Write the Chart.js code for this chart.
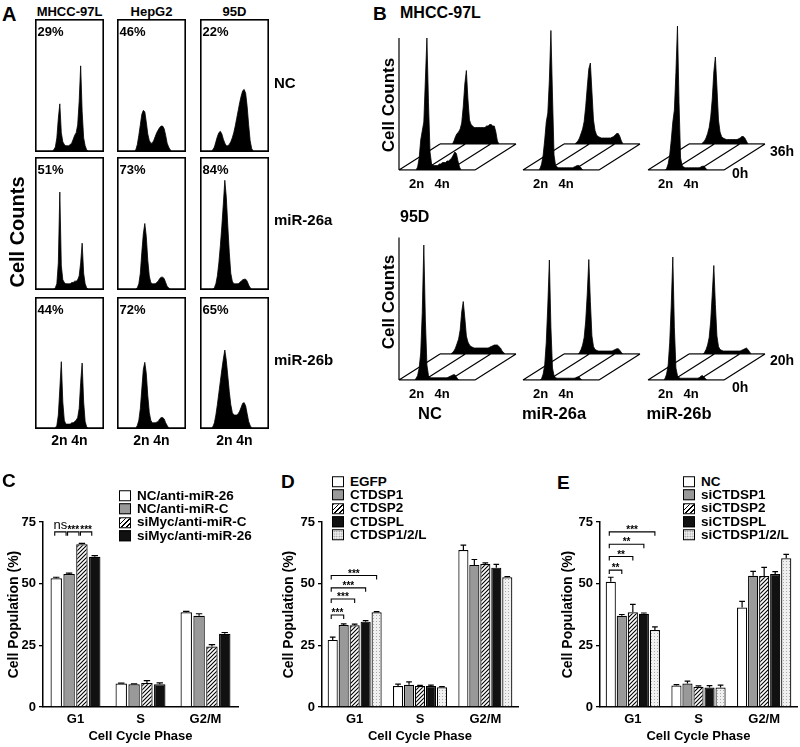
<!DOCTYPE html>
<html>
<head>
<meta charset="utf-8">
<title>Cell cycle figure</title>
<script src="https://cdn.jsdelivr.net/npm/chart.js@4.4.1/dist/chart.umd.min.js"></script>
<style>
  body { margin: 0; background: #fff; }
  #fig { position: relative; width: 800px; height: 747px; overflow: hidden; background: #fff;
         font-family: "Liberation Sans", Arial, Helvetica, sans-serif; font-weight: bold; color: #000; }
  #fig canvas { position: absolute; }
  .t { position: absolute; white-space: nowrap; line-height: 1; transform: translate(-50%, -50%); }
  .t.l { transform: translate(0, -50%); }
  .t.r90 { transform: translate(-50%, -50%) rotate(-90deg); }
  .leg { position: absolute; white-space: nowrap; font-size: 13.5px; line-height: 1; transform: translate(0, -50%); display: flex; align-items: center; }
  .sw { display: inline-block; box-sizing: border-box; width: 12px; height: 11px; border: 1px solid #000; margin-right: 6px; }
  .s0 { background: #fff; }
  .s1 { background: #999; }
  .s2 { background: repeating-linear-gradient(135deg, #000 0 1.2px, #fff 1.2px 3.4px); }
  .s3 { background: #111; }
  .s4 { background-color: #efefef; background-image: radial-gradient(#999 0.7px, transparent 0.9px); background-size: 2.5px 2.5px; }
</style>
</head>
<body>
<div id="fig"></div>
<script>
Chart.defaults.font.family = '"Liberation Sans", Arial, Helvetica, sans-serif';
Chart.defaults.font.weight = 'bold';
Chart.defaults.color = '#000';
Chart.defaults.animation = false;

// ---------- panel A: DNA histograms (46 channels, % of frame height) ----------
const cellLinesA = ['MHCC-97L', 'HepG2', '95D'];
const treatmentsA = ['NC', 'miR-26a', 'miR-26b'];
const g1PercentA = [['29%', '46%', '22%'], ['51%', '73%', '84%'], ['44%', '72%', '65%']];

const hist97L_NC = [0,0,0,0,0,0,0,0,0,0,0,0,1,3,10,25,36,14,7,5,4,4,4,5,6,9,12,14,20,38,65,30,10,4,1,0,0,0,0,0,0,0,0,0,0,0];
const histHep_NC = [0,0,0,0,0,0,0,0,0,0,0,0,1,5,12,20,28,31,30,22,13,8,6,6,8,11,14,16,18,19,19,17,12,6,3,1,0,0,0,0,0,0,0,0,0,0];
const hist95D_NC = [0,0,0,0,0,0,0,0,1,3,7,11,14,15,13,9,6,4,4,5,7,10,14,19,25,31,37,42,46,47,44,34,20,8,2,0,0,0,0,0,0,0,0,0,0,0];
const hist97L_a = [0,0,0,0,0,0,0,0,0,0,0,0,0,1,4,20,74,18,7,5,4,4,4,4,5,5,6,6,7,10,20,35,12,4,1,0,0,0,0,0,0,0,0,0,0,0];
const histHep_a = [0,0,0,0,0,0,0,0,0,0,0,0,0,1,4,12,28,42,50,40,22,10,5,4,4,4,5,6,8,9,9,8,5,2,1,0,0,0,0,0,0,0,0,0,0,0];
const hist95D_a = [0,0,0,0,0,0,0,0,0,1,4,10,20,33,48,65,83,70,48,28,12,6,4,4,4,4,5,6,7,7.5,7.5,6,3,1,0,0,0,0,0,0,0,0,0,0,0,0];
const hist97L_b = [0,0,0,0,0,0,0,0,0,0,0,0,0,0,2,10,30,51,20,6,3,3,3,3,4,4,5,6,8,15,35,50,20,5,1,0,0,0,0,0,0,0,0,0,0,0];
const histHep_b = [0,0,0,0,0,0,0,0,0,0,0,0,0,2,6,15,30,45,50.5,42,25,12,6,4,4,4,4.5,5,7,8,8,7,4,2,0,0,0,0,0,0,0,0,0,0,0,0];
const hist95D_b = [0,0,0,0,0,0,0,0,1,4,10,18,27,36,45,53,60,52,40,28,18,12,10,10,10,11,13,16,19,19.5,17,11,5,2,0,0,0,0,0,0,0,0,0,0,0,0];

// ---------- panel B: front (0h) and back (36h / 20h) traces, 50 channels ----------
const t97L_NC_0h  = [0,0,0,0,0,0,0,0,0,0,0,0,2,8,20,26,32,60,88,45,12,4,3,3,3,3,4,4,5,5,5,6,6,7,8,10,12,11,6,2,0,0,0,0,0,0,0,0,0,0];
const t97L_NC_36h = [0,0,0,0,0,0,0,0,0,2,5,7,8,10,14,25,40,49,30,16,13,12,11,11,11,11,11,11,11,11,12,12,13,13,12,12,8,2,0,0,0,0,0,0,0,0,0,0,0,0];
const t97L_a_0h   = [0,0,0,0,0,0,0,0,0,0,0,1,4,10,20,32,38,60,93,50,10,3,2,1.5,1.5,1.5,1.5,1.5,1.5,1.5,1.5,1.5,1.5,2,2.5,3,3,2,0.5,0,0,0,0,0,0,0,0,0,0,0];
const t97L_a_36h  = [0,0,0,0,0,0,0,0,1,2,4,7,10,15,25,38,50,54,35,16,9,6,5,4.5,4,4,4,4,4,4,4,4.5,5,6,7,7,5,2,0,0,0,0,0,0,0,0,0,0,0,0];
const t97L_b_0h   = [0,0,0,0,0,0,0,0,0,0,0,0,1,4,10,20,32,40,65,96,45,8,3,2,1.5,1.5,1.5,1.5,1.5,1.5,1.5,1.5,1.5,1.5,2,2.5,2.5,1.5,0,0,0,0,0,0,0,0,0,0,0,0];
const t97L_b_36h  = [0,0,0,0,0,0,0,0,0,1,2,4,7,11,18,30,48,58,38,16,8,5,4,3.5,3,3,3,3,3,3,3,3,3.5,4,5,5,4,2,0,0,0,0,0,0,0,0,0,0,0,0];
const t95D_NC_0h  = [0,0,0,0,0,0,0,0,0,0,0,1,3,8,18,45,90,40,10,3,1.5,1.5,1.5,1.5,1.5,1.5,1.5,1.5,1.5,1.5,1.5,1.5,2,2.5,3,3.5,3.5,2,0.5,0,0,0,0,0,0,0,0,0,0,0];
const t95D_NC_20h = [0,0,0,0,0,0,0,0,1,2,4,7,10,16,28,35,24,12,8,6,5,4.5,4,4,4,4,4,4,4,4,4,4,4.5,5,5.5,6,6,6,5,4,2,1,0,0,0,0,0,0,0,0];
const t95D_a_0h   = [0,0,0,0,0,0,0,0,0,0,0,0,1,4,10,25,50,80,35,8,3,1.5,1.2,1.2,1.2,1.2,1.2,1.2,1.2,1.2,1.2,1.2,1.2,1.2,1.5,2,2,1,0,0,0,0,0,0,0,0,0,0,0,0];
const t95D_a_20h  = [0,0,0,0,0,0,0,0,0,0,1,3,6,11,22,40,63,35,12,5,3,2.5,2,2,2,2,2,2,2,2,2,2,2.5,3,3.5,3.5,2.5,1,0,0,0,0,0,0,0,0,0,0,0,0];
const t95D_b_0h   = [0,0,0,0,0,0,0,0,0,0,0,1,4,10,25,50,82,35,8,3,1.5,1.2,1.2,1.2,1.2,1.2,1.2,1.2,1.2,1.2,1.2,1.2,1.2,1.5,2.5,3,2,1,0,0,0,0,0,0,0,0,0,0,0,0];
const t95D_b_20h  = [0,0,0,0,0,0,0,0,0,0,1,3,6,11,22,40,59,33,12,5,3,2.5,2,2,2,2,2,2,2,2,2,2,2,2,2.5,3,3.5,4,3,1.5,0,0,0,0,0,0,0,0,0,0];
const treatmentsB = ['NC', 'miR-26a', 'miR-26b'];

// ---------- panels C, D, E: cell population (%) ----------
const phases = ['G1', 'S', 'G2/M'];

const groupsC = ['NC/anti-miR-26', 'NC/anti-miR-C', 'siMyc/anti-miR-C', 'siMyc/anti-miR-26'];
const meansC  = [[52.2, 9.5, 38.4], [53.9, 9.2, 37.0], [66.0, 9.7, 24.5], [60.9, 9.2, 29.7]];
const errorsC = [[0.4, 0.2, 0.4], [0.4, 0.2, 0.8], [0.3, 1.0, 0.8], [0.5, 0.6, 0.5]];
const sigC    = [[0, 1, 71, 'ns'], [1, 2, 71, '***'], [2, 3, 71, '***']];

const groupsD = ['EGFP', 'CTDSP1', 'CTDSP2', 'CTDSPL', 'CTDSP1/2/L'];
const meansD  = [[27.2, 8.5, 63.6], [33.2, 9.0, 57.6], [33.1, 8.5, 58.0], [34.6, 8.5, 56.5], [38.4, 8.0, 52.6]];
const errorsD = [[1.1, 0.8, 2.0], [0.5, 1.2, 2.2], [0.5, 0.3, 0.4], [0.4, 0.4, 1.3], [0.3, 0.3, 0.3]];
const sigD    = [[0, 1, 37.3, '***'], [0, 2, 43.8, '***'], [0, 3, 48.3, '***'], [0, 4, 53.3, '***']];

const groupsE = ['NC', 'siCTDSP1', 'siCTDSP2', 'siCTDSPL', 'siCTDSP1/2/L'];
const meansE  = [[50.8, 8.7, 40.3], [37.0, 9.5, 53.2], [38.4, 8.2, 53.1], [37.8, 7.9, 53.9], [31.2, 7.9, 60.3]];
const errorsE = [[1.8, 0.4, 2.5], [0.5, 1.0, 1.8], [3.2, 0.4, 3.5], [0.3, 0.8, 1.0], [1.3, 1.0, 1.6]];
const sigE    = [[0, 1, 55.5, '**'], [0, 2, 61, '**'], [0, 3, 66, '**'], [0, 4, 71, '***']];

// ---------- helpers ----------
const fig = document.getElementById('fig');

function addCanvas(left, top, width, height) {
    const c = document.createElement('canvas');
    c.width = width; c.height = height;
    c.style.left = left + 'px'; c.style.top = top + 'px';
    c.style.width = width + 'px'; c.style.height = height + 'px';
    fig.appendChild(c);
    return c;
}

function text(str, x, y, size, cls) {
    const d = document.createElement('div');
    d.className = 't' + (cls ? ' ' + cls : '');
    d.textContent = str;
    d.style.left = x + 'px'; d.style.top = y + 'px'; d.style.fontSize = size + 'px';
    fig.appendChild(d);
    return d;
}

function legend(x, y, names) {
    names.forEach((n, i) => {
        const row = document.createElement('div');
        row.className = 'leg';
        row.style.left = x + 'px';
        row.style.top = (y + i * 13.4) + 'px';
        row.innerHTML = '<span class="sw s' + i + '"></span>' + n;
        fig.appendChild(row);
    });
}

const framePlugin = {
    id: 'frame',
    afterDraw(chart) {
        const ctx = chart.ctx;
        ctx.save();
        ctx.strokeStyle = '#000';
        ctx.lineWidth = 1.6;
        ctx.strokeRect(0.8, 0.8, chart.width - 1.6, chart.height - 1.6);
        ctx.restore();
    }
};

const DX = 41, DY = 26, BW = 76, BH = 150;

const floorPlugin = {
    id: 'floor',
    beforeDatasetsDraw(chart, args, opts) {
        const ctx = chart.ctx, a = chart.chartArea;
        ctx.save();
        ctx.strokeStyle = '#000';
        ctx.lineWidth = 1.2;
        ctx.beginPath();
        ctx.moveTo(a.left, a.bottom); ctx.lineTo(a.right, a.bottom);
        ctx.moveTo(a.left + DX, a.bottom - DY); ctx.lineTo(a.right + DX, a.bottom - DY);
        for (let k = 0; k <= 3; k++) {
            const x = a.left + (a.right - a.left) * k / 3;
            ctx.moveTo(x, a.bottom); ctx.lineTo(x + DX, a.bottom - DY);
        }
        if (opts.axisTop) {
            ctx.moveTo(a.left, a.bottom);
            ctx.lineTo(a.left, chart.scales.y.getPixelForValue(opts.axisTop));
        }
        ctx.stroke();
        ctx.restore();
    }
};

function traceChart(canvas, pad, counts, maxX, plugins, pluginOpts) {
    return new Chart(canvas, {
        type: 'line',
        data: {
            labels: counts.map((_, i) => i),
            datasets: [{
                data: counts, fill: 'origin', backgroundColor: '#000', borderColor: '#000',
                borderWidth: 0.8, pointRadius: 0, tension: 0
            }]
        },
        options: {
            responsive: false, events: [],
            layout: { padding: pad },
            plugins: Object.assign({ legend: { display: false }, tooltip: { enabled: false } }, pluginOpts || {}),
            scales: {
                x: { type: 'linear', display: false, min: 0, max: maxX },
                y: { display: false, min: 0, max: 100 }
            }
        },
        plugins: plugins || []
    });
}

// ---------- panel A ----------
const colLeft = [35, 117, 200];
const rowTop = [19, 157, 297];
const rowH = [133, 133, 132];
const histA = [
    [hist97L_NC, histHep_NC, hist95D_NC],
    [hist97L_a, histHep_a, hist95D_a],
    [hist97L_b, histHep_b, hist95D_b]
];

text('A', 2, 13.5, 20, 'l');
cellLinesA.forEach((n, j) => text(n, colLeft[j] + 34.5, 11, 13));
histA.forEach((row, i) => {
    row.forEach((h, j) => {
        const c = addCanvas(colLeft[j], rowTop[i], 69, rowH[i]);
        traceChart(c, { left: 1, right: 1, top: 1, bottom: 1 }, h, 45, [framePlugin]);
        text(g1PercentA[i][j], colLeft[j] + 2.5, rowTop[i] + 12, 13, 'l');
    });
});
[82, 219, 359].forEach((y, i) => text(treatmentsA[i], 274, y, 15, 'l'));
colLeft.forEach(x => { text('2n', x + 24.5, 440, 14); text('4n', x + 44.5, 440, 14); });
text('Cell Counts', 17, 232, 20, 'r90');

// ---------- panel B ----------
function histo3d(x0, y0, front, back, axisTop) {
    const cb = addCanvas(x0 + DX - 4, y0 - DY - BH - 4, BW + 8, BH + 8);
    traceChart(cb, { left: 4, right: 4, top: 4, bottom: 4 }, back, 49);
    const cf = addCanvas(x0 - 4, y0 - BH - 4, BW + DX + 8, BH + 8);
    traceChart(cf, { left: 4, right: DX + 4, top: 4, bottom: 4 }, front, 49, [floorPlugin], { floor: { axisTop } });
    text('2n', x0 + 17.5, y0 + 12.5, 13);
    text('4n', x0 + 43, y0 + 12.5, 13);
}

const plotX = [399, 523, 648];
text('B', 373, 12.5, 19, 'l');
text('MHCC-97L', 400, 13, 16, 'l');
histo3d(plotX[0], 170, t97L_NC_0h, t97L_NC_36h, 88);
histo3d(plotX[1], 170, t97L_a_0h, t97L_a_36h);
histo3d(plotX[2], 170, t97L_b_0h, t97L_b_36h);
text('Cell Counts', 388, 105, 17, 'r90');
text('36h', 770, 151, 14, 'l');
text('0h', 732, 173, 14, 'l');

text('95D', 400, 217, 16, 'l');
histo3d(plotX[0], 380, t95D_NC_0h, t95D_NC_20h, 95);
histo3d(plotX[1], 380, t95D_a_0h, t95D_a_20h);
histo3d(plotX[2], 380, t95D_b_0h, t95D_b_20h);
text('Cell Counts', 388, 302, 17, 'r90');
text('20h', 770, 360, 14, 'l');
text('0h', 732, 387, 14, 'l');
treatmentsB.forEach((n, i) => text(n, plotX[i] + 31, 413, 16.5));

// ---------- panels C, D, E ----------
function hatchFill() {
    const t = document.createElement('canvas');
    t.width = 4; t.height = 4;
    const g = t.getContext('2d');
    g.fillStyle = '#fff'; g.fillRect(0, 0, 4, 4);
    g.strokeStyle = '#000'; g.lineWidth = 1.1;
    g.beginPath();
    g.moveTo(-1, 5); g.lineTo(5, -1);
    g.moveTo(-1, 1); g.lineTo(1, -1);
    g.moveTo(3, 5); g.lineTo(5, 3);
    g.stroke();
    return g.createPattern(t, 'repeat');
}
function dotFill() {
    const t = document.createElement('canvas');
    t.width = 3; t.height = 3;
    const g = t.getContext('2d');
    g.fillStyle = '#f0f0f0'; g.fillRect(0, 0, 3, 3);
    g.fillStyle = '#aaa'; g.fillRect(1, 1, 1, 1);
    return g.createPattern(t, 'repeat');
}
const barFills = ['#fff', '#999', hatchFill(), '#111', dotFill()];

const errorBars = {
    id: 'errorBars',
    afterDatasetsDraw(chart) {
        const ctx = chart.ctx, y = chart.scales.y;
        ctx.save();
        ctx.strokeStyle = '#000';
        ctx.lineWidth = 1.2;
        chart.data.datasets.forEach((ds, i) => {
            chart.getDatasetMeta(i).data.forEach((bar, j) => {
                const top = y.getPixelForValue(ds.data[j] + ds.errors[j]);
                const half = bar.width * 0.28;
                ctx.beginPath();
                ctx.moveTo(bar.x, bar.y); ctx.lineTo(bar.x, top);
                ctx.moveTo(bar.x - half, top); ctx.lineTo(bar.x + half, top);
                ctx.stroke();
            });
        });
        ctx.restore();
    }
};

const sigBrackets = {
    id: 'sig',
    afterDatasetsDraw(chart, args, opts) {
        const ctx = chart.ctx, y = chart.scales.y;
        const inL = opts.insetLeft || 0, inR = opts.insetRight || 0;
        ctx.save();
        ctx.strokeStyle = '#000';
        ctx.fillStyle = '#000';
        ctx.lineWidth = 1.1;
        ctx.textAlign = 'center';
        ctx.textBaseline = 'alphabetic';
        (opts.items || []).forEach(([a, b, level, label]) => {
            const xa = chart.getDatasetMeta(a).data[0].x + inL;
            const xb = chart.getDatasetMeta(b).data[0].x - inR;
            const py = y.getPixelForValue(level);
            ctx.beginPath();
            ctx.moveTo(xa, py + 4); ctx.lineTo(xa, py); ctx.lineTo(xb, py); ctx.lineTo(xb, py + 4);
            ctx.stroke();
            if (label === 'ns') {
                ctx.font = 'normal 13px "Liberation Sans", Arial, sans-serif';
                ctx.fillText(label, (xa + xb) / 2, py - 3);
            } else {
                ctx.font = 'bold 10px "Liberation Sans", Arial, sans-serif';
                ctx.fillText(label, (xa + xb) / 2, py + 1);
            }
        });
        ctx.restore();
    }
};

function barChart(box, groups, means, errors, sig) {
    const c = addCanvas(box.left, 500, box.width, 247);
    new Chart(c, {
        type: 'bar',
        data: {
            labels: phases,
            datasets: groups.map((g, i) => ({
                label: g, data: means[i], errors: errors[i],
                backgroundColor: barFills[i], borderColor: '#000', borderWidth: 1.2,
                categoryPercentage: box.cat, barPercentage: box.bar
            }))
        },
        options: {
            responsive: false, events: [],
            layout: { padding: { top: 22, right: box.padRight, left: 0, bottom: 0 } },
            plugins: {
                legend: { display: false }, tooltip: { enabled: false },
                sig: { items: sig, insetLeft: box.sigL, insetRight: box.sigR }
            },
            scales: {
                x: {
                    grid: { display: false, drawTicks: false },
                    border: { color: '#000', width: 1.5 },
                    ticks: { font: { size: 13 }, padding: 5 },
                    title: { display: true, text: 'Cell Cycle Phase', font: { size: 13 }, padding: { top: 0, bottom: 3 } },
                    afterFit: s => { s.height = 40; }
                },
                y: {
                    min: 0, max: 75,
                    ticks: { stepSize: 25, font: { size: 13 }, padding: 3 },
                    grid: { drawOnChartArea: false, tickLength: 4, color: '#000', lineWidth: 1.3 },
                    border: { color: '#000', width: 1.5 },
                    title: { display: true, text: 'Cell Population (%)', font: { size: 14 }, padding: { top: box.titlePad, bottom: 0 } },
                    afterFit: s => { s.width = box.axisW; }
                }
            }
        },
        plugins: [errorBars, sigBrackets]
    });
}

barChart({ left: 0, width: 245, axisW: 43, padRight: 7, titlePad: 5.6, cat: 0.79, bar: 0.89, sigL: -1.5, sigR: 3 }, groupsC, meansC, errorsC, sigC);
barChart({ left: 270, width: 255, axisW: 52, padRight: 7, titlePad: 10.6, cat: 0.84, bar: 0.92, sigL: -1.5, sigR: 0 }, groupsD, meansD, errorsD, sigD);
barChart({ left: 530, width: 270, axisW: 70, padRight: 3, titlePad: 29.6, cat: 0.84, bar: 0.92, sigL: -1.5, sigR: 0 }, groupsE, meansE, errorsE, sigE);

text('C', 2, 480, 19, 'l');
text('D', 281, 481, 19, 'l');
text('E', 557, 482, 19, 'l');
legend(119, 495.5, groupsC);
legend(332, 481.5, groupsD);
legend(683, 481.5, groupsE);
</script>
</body>
</html>
